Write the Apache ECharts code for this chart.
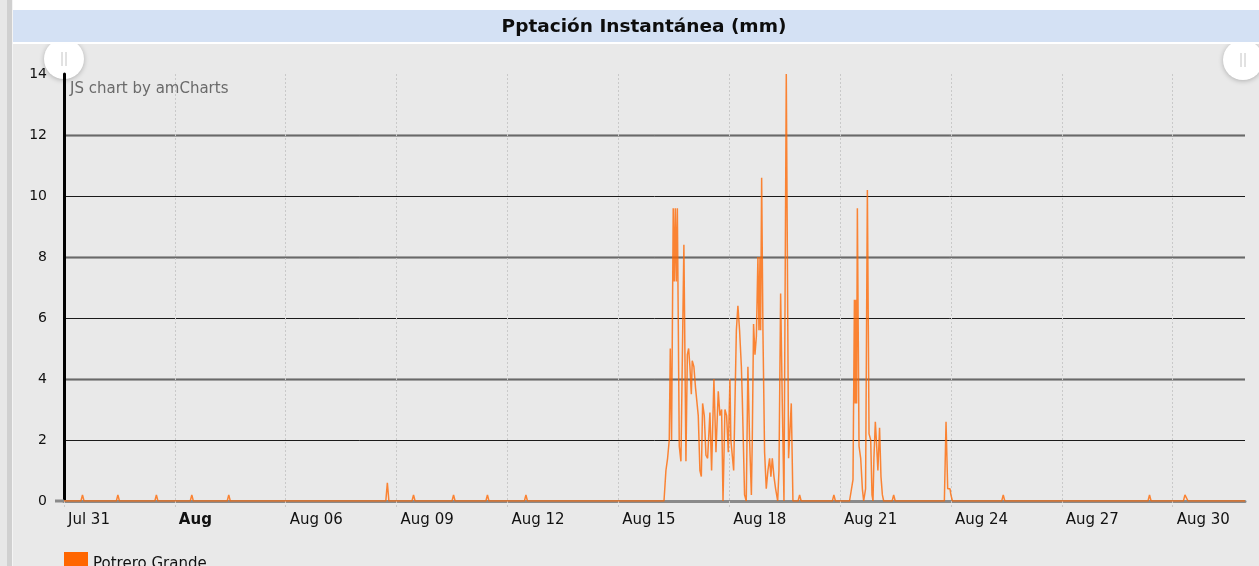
<!DOCTYPE html>
<html>
<head>
<meta charset="utf-8">
<title>Pptación Instantánea (mm)</title>
<script src="https://cdn.jsdelivr.net/npm/echarts@6/dist/echarts.min.js"></script>
<style>
  html, body { margin: 0; padding: 0; background: #ffffff; }
  #chart { width: 1259px; height: 566px; }
</style>
</head>
<body>
<div id="chart"></div>
<script>
// ---- data -------------------------------------------------------------
const chartTitle = 'Pptación Instantánea (mm)';
const seriesName = 'Potrero Grande';
const recordYear = 2019;

// x axis: one gridline every 3 days from Jul 31; the first one in August shows the month
const xTickLabels = ['Jul 31', 'Aug', 'Aug 06', 'Aug 09', 'Aug 12', 'Aug 15',
                     'Aug 18', 'Aug 21', 'Aug 24', 'Aug 27', 'Aug 30'];
const boldTickLabels = ['Aug'];
const yMax = 14;
const yStep = 2;

// station readings, "MM-DD HH:mm"
const times = [
  '07-31 00:00',
  '07-31 11:00', '07-31 12:00', '07-31 13:00',
  '08-01 10:00', '08-01 11:00', '08-01 12:00',
  '08-02 11:00', '08-02 12:00', '08-02 13:00',
  '08-03 10:00', '08-03 11:00', '08-03 12:00',
  '08-04 10:00', '08-04 11:00', '08-04 12:00',
  '08-08 17:00', '08-08 18:00', '08-08 19:00',
  '08-09 10:00', '08-09 11:00', '08-09 12:00',
  '08-10 12:00', '08-10 13:00', '08-10 14:00',
  '08-11 10:00', '08-11 11:00', '08-11 12:00',
  '08-12 11:00', '08-12 12:00', '08-12 13:00',
  '08-16 05:40', '08-16 06:55', '08-16 08:00', '08-16 09:05', '08-16 09:45',
  '08-16 10:35', '08-16 11:40', '08-16 12:20', '08-16 13:00', '08-16 13:40',
  '08-16 14:20', '08-16 14:55', '08-16 15:35', '08-16 16:40', '08-16 17:20',
  '08-16 18:35', '08-16 19:55', '08-16 20:50', '08-16 21:40', '08-16 22:30',
  '08-16 23:25', '08-17 00:00',
  '08-17 01:05', '08-17 02:10', '08-17 03:55', '08-17 05:00', '08-17 05:55',
  '08-17 06:45', '08-17 07:50', '08-17 08:55', '08-17 10:00', '08-17 11:30',
  '08-17 12:35', '08-17 14:05', '08-17 15:25', '08-17 16:55', '08-17 18:00',
  '08-17 19:05', '08-17 20:00', '08-17 21:15', '08-17 22:20', '08-17 23:25',
  '08-18 00:30',
  '08-18 01:05', '08-18 02:55', '08-18 04:40', '08-18 05:40', '08-18 06:45',
  '08-18 07:55', '08-18 08:30', '08-18 10:00', '08-18 11:05', '08-18 12:10',
  '08-18 13:15', '08-18 14:25', '08-18 15:00', '08-18 15:50', '08-18 16:45',
  '08-18 17:40', '08-18 18:40', '08-18 19:20', '08-18 20:00', '08-18 20:25',
  '08-18 21:05', '08-18 21:55', '08-18 23:00', '08-19 00:05',
  '08-19 01:10', '08-19 02:15', '08-19 03:05', '08-19 04:00', '08-19 05:05',
  '08-19 06:10', '08-19 07:30', '08-19 08:20', '08-19 09:25', '08-19 10:30',
  '08-19 11:35', '08-19 13:05', '08-19 14:35', '08-19 15:40', '08-19 16:20',
  '08-19 17:25',
  '08-19 20:45', '08-19 21:45', '08-19 22:45',
  '08-20 19:00', '08-20 20:00', '08-20 21:00',
  '08-21 06:10', '08-21 08:25', '08-21 09:20', '08-21 09:50', '08-21 10:20',
  '08-21 10:45', '08-21 11:15', '08-21 12:20', '08-21 13:25', '08-21 14:30',
  '08-21 15:20', '08-21 16:35', '08-21 17:45', '08-21 18:50', '08-21 19:55',
  '08-21 20:45', '08-21 21:25', '08-21 22:00', '08-21 22:55', '08-21 23:35',
  '08-22 00:35',
  '08-22 01:40', '08-22 02:35', '08-22 03:30', '08-22 04:20',
  '08-22 09:50', '08-22 10:50', '08-22 11:50',
  '08-23 19:45', '08-23 20:50', '08-23 21:55', '08-23 23:25', '08-24 00:00',
  '08-24 01:00',
  '08-25 09:00', '08-25 10:00', '08-25 11:00',
  '08-29 08:00', '08-29 09:00', '08-29 10:00',
  '08-30 07:00', '08-30 08:00', '08-30 09:00', '08-30 10:00',
  '08-31 23:00'
];

// rainfall per reading, mm
const rainMm = [
  0,
  0, 0.2, 0,
  0, 0.2, 0,
  0, 0.2, 0,
  0, 0.2, 0,
  0, 0.2, 0,
  0, 0.6, 0,
  0, 0.2, 0,
  0, 0.2, 0,
  0, 0.2, 0,
  0, 0.2, 0,
  0, 1.0, 1.4, 2.0, 5.0,
  2.0, 9.6, 7.2, 9.6, 7.2,
  9.6, 6.0, 1.8, 1.3, 1.3,
  8.4, 1.3, 4.8, 5.0, 4.4,
  3.5, 4.6,
  4.4, 3.7, 2.8, 1.0, 0.8,
  3.2, 2.8, 1.5, 1.4, 2.9,
  1.0, 4.0, 1.6, 3.6, 2.8,
  3.0, 0, 3.0, 2.8, 1.6,
  4.0,
  2.0, 1.0, 5.6, 6.4, 5.6,
  4.4, 3.4, 0.2, 0, 4.4,
  2.0, 0.2, 2.0, 5.8, 4.8,
  5.4, 8.0, 5.6, 8.0, 5.6,
  10.6, 5.6, 1.6, 0.4,
  1.0, 1.4, 0.8, 1.4, 0.8,
  0.4, 0, 1.0, 6.8, 3.2,
  0, 14.0, 1.4, 1.4, 3.2,
  0,
  0, 0.2, 0,
  0, 0.2, 0,
  0, 0.7, 6.6, 3.2, 6.6,
  3.2, 9.6, 1.8, 1.4, 0.4,
  0, 0.4, 10.2, 2.2, 2.0,
  0.2, 0, 1.4, 2.6, 2.0,
  1.0,
  2.4, 0.8, 0.2, 0,
  0, 0.2, 0,
  0, 2.6, 0.4, 0.4, 0.2,
  0,
  0, 0.2, 0,
  0, 0.2, 0,
  0, 0.2, 0.2, 0,
  0
];

// ---- helpers ----------------------------------------------------------
const DAY = 86400000;
function toMs(stamp) {
  const [md, hm] = stamp.split(' ');
  const [mo, d] = md.split('-').map(Number);
  const [h, mi] = hm.split(':').map(Number);
  return Date.UTC(recordYear, mo - 1, d, h, mi);
}
const xStart = toMs(times[0]);                 // Jul 31 00:00
const xEnd = toMs(times[times.length - 1]);    // Aug 31 23:00
const xStep = 3 * DAY;
const points = times.map((t, i) => [toMs(t), rainMm[i]]);

const FONT = 'DejaVu Sans';
const chart = echarts.init(document.getElementById('chart'), null, { renderer: 'canvas' });

// scrollbar grip: white disc with two small bars
function grip(cx, cy) {
  return {
    type: 'group', z: 10,
    children: [
      { type: 'circle', shape: { cx: cx, cy: cy, r: 20 },
        style: { fill: '#ffffff', shadowBlur: 5, shadowColor: 'rgba(0,0,0,0.25)', shadowOffsetY: 1 } },
      { type: 'line', shape: { x1: cx - 2, y1: cy - 7, x2: cx - 2, y2: cy + 7 },
        style: { stroke: '#c4c4c4', lineWidth: 1 } },
      { type: 'line', shape: { x1: cx + 2, y1: cy - 7, x2: cx + 2, y2: cy + 7 },
        style: { stroke: '#c4c4c4', lineWidth: 1 } }
    ]
  };
}

// page frame: white top strip, grey left edge, blue title bar, grips and credit text
function frame(extra) {
  return [
    { type: 'rect', z: 20, shape: { x: 0, y: 0, width: 1259, height: 44 }, style: { fill: '#ffffff' } },
    { type: 'rect', z: 21, shape: { x: 13, y: 10, width: 1246, height: 32 }, style: { fill: '#d4e1f4' } },
    { type: 'rect', z: 22, shape: { x: 0, y: 0, width: 7, height: 566 }, style: { fill: '#e7e7e7' } },
    { type: 'rect', z: 22, shape: { x: 7, y: 0, width: 5, height: 566 }, style: { fill: '#d0d0d0' } },
    { type: 'rect', z: 22, shape: { x: 12, y: 0, width: 1, height: 566 }, style: { fill: '#f4f4f4' } },
    grip(64, 59),
    grip(1243, 60),
    { type: 'text', z: 12, left: 70, top: 82,
      style: { text: 'JS chart by amCharts', font: '15px "DejaVu Sans"', fill: '#6a6a6a' } }
  ].concat(extra || []);
}

chart.setOption({
  animation: false,
  backgroundColor: '#e9e9e9',
  textStyle: { fontFamily: FONT },
  title: {
    text: chartTitle,
    left: 644, top: 27,
    textAlign: 'center', textVerticalAlign: 'middle',
    padding: 0,
    textStyle: { fontFamily: FONT, fontWeight: 'bold', fontSize: 18.5, color: '#0d0d0d' },
    z: 30
  },
  grid: { left: 64, right: 14, top: 74, bottom: 65, containLabel: false },
  legend: {
    left: 64, top: 552, padding: 0,
    itemWidth: 24, itemHeight: 24,
    icon: 'rect',
    textStyle: { fontFamily: FONT, fontSize: 15, color: '#111111', padding: [4, 0, 0, 0] },
    data: [{ name: seriesName, icon: 'rect', itemStyle: { color: '#ff6600', opacity: 1 } }]
  },
  xAxis: {
    type: 'value',
    min: xStart, max: xEnd, interval: xStep,
    axisLine: { show: true, onZero: true, lineStyle: { color: '#8a8a8a', width: 3 } },
    axisTick: { show: true, length: 8, lineStyle: { color: '#c9c9c9', width: 1, type: [2, 2] } },
    splitLine: { show: true, showMinLine: false, showMaxLine: false,
                 lineStyle: { color: '#c9c9c9', width: 1, type: [2, 2] } },
    axisLabel: {
      margin: 12, align: 'left', padding: [0, 0, 0, 4],
      fontFamily: FONT, fontSize: 15, color: '#111111',
      showMaxLabel: false,
      formatter: function (v) {
        const idx = Math.round((v - xStart) / xStep);
        const txt = xTickLabels[idx];
        if (txt === undefined || v >= xEnd) return '';
        return boldTickLabels.indexOf(txt) >= 0 ? '{b|' + txt + '}' : txt;
      },
      rich: { b: { fontFamily: FONT, fontSize: 15, fontWeight: 'bold', color: '#111111' } }
    }
  },
  yAxis: [
    {
      type: 'value', min: 0, max: yMax, interval: yStep,
      axisLine: { show: true, lineStyle: { color: '#000000', width: 3 } },
      axisTick: { show: false },
      axisLabel: { margin: 17, fontFamily: FONT, fontSize: 14, color: '#111111' },
      splitLine: { show: true, showMaxLine: false, lineStyle: { color: '#1a1a1a', width: 1 } }
    },
    {
      // heavier guide every second gridline
      type: 'value', min: 0, max: yMax, interval: yStep * 2,
      position: 'left',
      axisLine: { show: false }, axisTick: { show: false }, axisLabel: { show: false },
      splitLine: { show: true, showMaxLine: false, lineStyle: { color: 'rgba(120,120,120,0.85)', width: 2.5 } }
    }
  ],
  series: [{
    name: seriesName,
    type: 'line',
    data: points,
    showSymbol: false,
    symbol: 'none',
    clip: true,
    itemStyle: { color: '#ff6600' },
    lineStyle: { color: '#ff6600', width: 1.5, opacity: 0.78 },
    z: 3
  }],
  graphic: frame()
});

// the zero line runs a little past the value axis, as a short stub to the left
const origin = chart.convertToPixel({ xAxisIndex: 0, yAxisIndex: 0 }, [xStart, 0]);
chart.setOption({
  graphic: frame([
    { type: 'line', z: 5, shape: { x1: origin[0] - 9, y1: origin[1], x2: origin[0], y2: origin[1] },
      style: { stroke: '#8a8a8a', lineWidth: 3 } }
  ])
}, { replaceMerge: ['graphic'] });
</script>
</body>
</html>
